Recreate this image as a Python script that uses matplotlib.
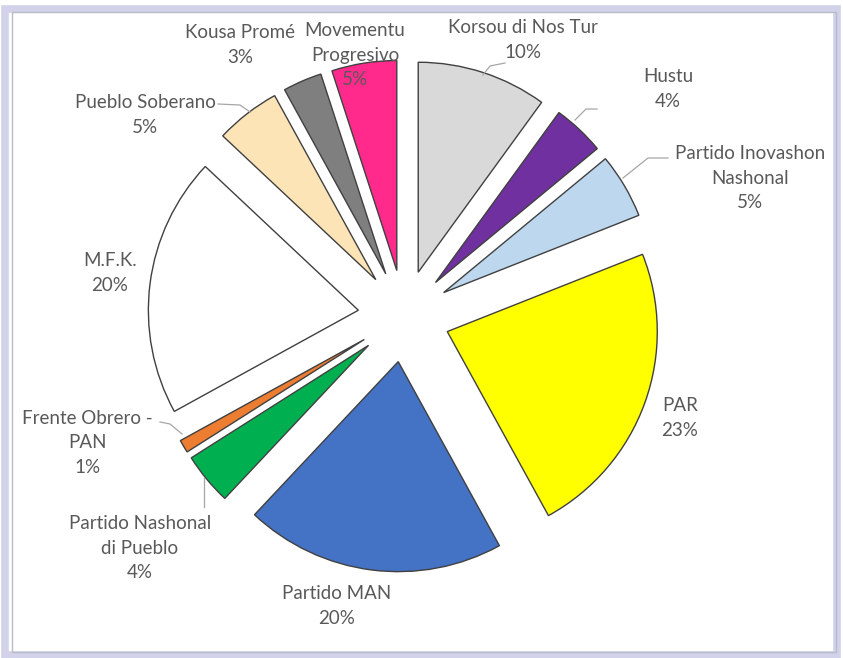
import matplotlib.pyplot as plt
import matplotlib.patches as mpatches

W, H = 843, 658

parties = ["Korsou di Nos Tur", "Hustu", "Partido Inovashon\nNashonal", "PAR",
           "Partido MAN", "Partido Nashonal\ndi Pueblo", "Frente Obrero -\nPAN",
           "M.F.K.", "Pueblo Soberano", "Kousa Promé", "Movementu\nProgresivo"]
shares = [10, 4, 5, 23, 20, 4, 1, 20, 5, 3, 5]
colors = ["#d9d9d9", "#7030a0", "#bdd7ee", "#ffff00", "#4472c4", "#00b050",
          "#ed7d31", "#ffffff", "#fce4b6", "#7f7f7f", "#ff2a8c"]

# label text centres in pixel coords (top-left origin)
label_pos = [(523, 40), (668, 89), (750, 178), (680, 418), (337, 606),
             (140, 548), (87, 443), (110, 273), (145, 115), (240, 45), (355, 55)]

# leader lines (pixel coords)
leaders = {
    0: [(483, 75), (490, 66), (505, 63)],
    1: [(575, 120), (586, 109), (597, 109)],
    2: [(623, 178), (648, 158), (668, 158)],
    8: [(218, 104), (240, 105), (250, 112)],
    6: [(160, 422), (170, 424), (182, 434)],
    5: [(204, 478), (204, 507)],
}

CX, CY = 404, 316
RADIUS = 210
EXPLODE = 46

fig = plt.figure(figsize=(W / 100, H / 100), dpi=100)
ax = fig.add_axes([0, 0, 1, 1])

wedges, _ = ax.pie(shares, colors=colors, startangle=90, counterclock=False,
                   radius=RADIUS, center=(CX, H - CY),
                   explode=[EXPLODE] * len(shares),
                   wedgeprops=dict(edgecolor="#404040", linewidth=1.0),
                   normalize=True, frame=True)

for i, (name, share) in enumerate(zip(parties, shares)):
    x, y = label_pos[i]
    ax.text(x, H - y, f"{name}\n{share}%", ha="center", va="center",
            fontsize=13.5, color="#595959", family="Lato", linespacing=1.55)

for pts in leaders.values():
    ax.plot([p[0] for p in pts], [H - p[1] for p in pts], color="#a6a6a6", lw=0.9)

ax.set_xlim(0, W)
ax.set_ylim(0, H)
ax.set_aspect("auto")
ax.axis("off")

# window frame
fig.patches.append(mpatches.Rectangle((4.5 / W, 3 / H), (W - 11) / W, (H - 12) / H,
                                      transform=fig.transFigure, fill=False,
                                      edgecolor="#d2d2ea", lw=5.5))
fig.patches.append(mpatches.Rectangle((11.5 / W, 6 / H), (W - 19) / W, (H - 17.5) / H,
                                      transform=fig.transFigure, fill=False,
                                      edgecolor="#b8bcc8", lw=1.0))

fig.savefig("out.png", dpi=100, facecolor="white")
